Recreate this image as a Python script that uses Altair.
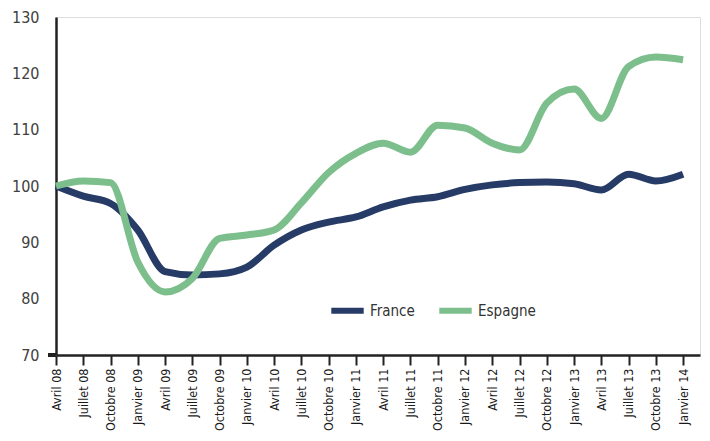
import altair as alt
import pandas as pd

labels = ["Avril 08", "Juillet 08", "Octobre 08", "Janvier 09", "Avril 09", "Juillet 09",
          "Octobre 09", "Janvier 10", "Avril 10", "Juillet 10", "Octobre 10", "Janvier 11",
          "Avril 11", "Juillet 11", "Octobre 11", "Janvier 12", "Avril 12", "Juillet 12",
          "Octobre 12", "Janvier 13", "Avril 13", "Juillet 13", "Octobre 13", "Janvier 14"]

france = [100, 98.2, 96.9, 92.2, 84.8, 84.2, 84.4, 85.6, 89.5, 92.2, 93.6, 94.5,
          96.3, 97.5, 98.1, 99.4, 100.2, 100.6, 100.7, 100.4, 99.3, 102.1, 100.9, 102.1]

espagne = [100, 100.9, 100.6, 86.5, 81.2, 83.6, 90.7, 91.3, 92.2, 97.0, 102.4, 105.8,
           107.6, 106.0, 110.8, 110.3, 107.6, 106.4, 114.7, 117.2, 112.0, 121.2, 122.9, 122.4]

series = ["France", "Espagne"]
colors = ["#263b66", "#7dbf8c"]

rows = []
for name, vals in zip(series, [france, espagne]):
    for i, v in enumerate(vals):
        rows.append({"idx": i, "label": labels[i], "value": v, "pays": name})
df = pd.DataFrame(rows)

FONT = "Liberation Sans Narrow, DejaVu Sans Condensed, sans-serif"
label_arr = "[" + ",".join("'" + l + "'" for l in labels) + "]"

lines = alt.Chart(df).mark_line(interpolate="monotone", strokeWidth=7, strokeCap="butt").encode(
    x=alt.X("idx:Q",
            scale=alt.Scale(domain=[0, 23.62], nice=False, zero=False),
            axis=alt.Axis(values=list(range(len(labels))),
                          labelExpr=label_arr + "[datum.value]",
                          labelAngle=270, labelAlign="right", labelBaseline="middle",
                          labelFont=FONT, labelFontSize=12.5, labelColor="#1a1a1a",
                          labelPadding=3, tickSize=10, tickWidth=2, tickColor="#222222",
                          domainColor="#222222", domainWidth=2.5, grid=False, title=None,
                          labelOverlap=False, labelBound=False, labelFlush=False)),
    y=alt.Y("value:Q",
            scale=alt.Scale(domain=[70, 130], nice=False, zero=False),
            axis=alt.Axis(values=[70, 80, 90, 100, 110, 120, 130], ticks=False,
                          labelFont=FONT, labelFontSize=16, labelColor="#404040",
                          labelPadding=17, domainColor="#222222", domainWidth=2.5,
                          grid=False, title=None)),
    color=alt.Color("pays:N", sort=series,
                    scale=alt.Scale(domain=series, range=colors),
                    legend=alt.Legend(orient="none", legendX=272, legendY=274,
                                      direction="horizontal", title=None,
                                      symbolType="stroke", symbolSize=1050,
                                      symbolStrokeWidth=6, labelFont=FONT,
                                      labelFontSize=15, labelColor="#333333",
                                      labelOffset=3, columnPadding=12)),
    order=alt.Order("idx:Q"),
)

corner = alt.Chart(df).mark_rule(color="#222222", strokeWidth=2.5).encode(
    x=alt.value(-8), x2=alt.value(0), y=alt.value(338)
)

chart = alt.layer(corner, lines).properties(
    width=644, height=338,
    autosize=alt.AutoSizeParams(type="none"),
    padding={"left": 48, "top": 9, "right": 2, "bottom": 78},
).configure_view(stroke=None).configure(background="white")

chart.save("out.html", embed_options={"renderer": "svg", "actions": False})
